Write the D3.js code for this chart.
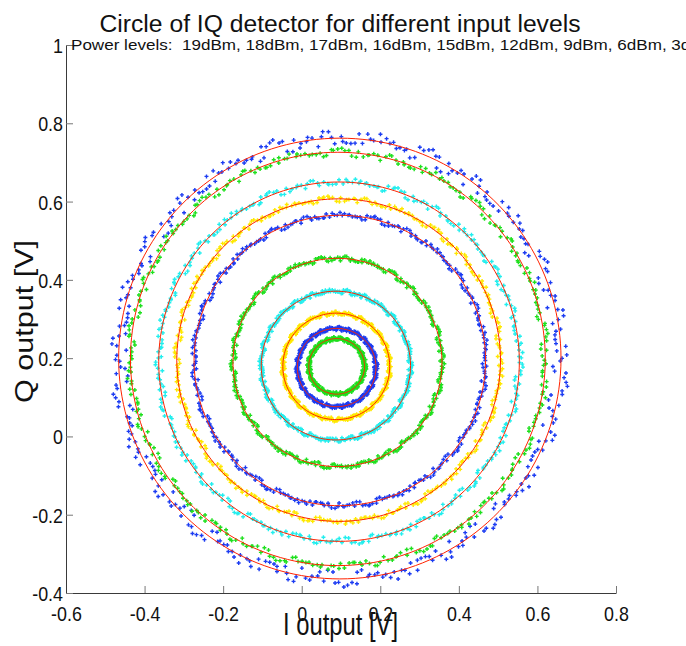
<!DOCTYPE html>
<html>
<head>
<meta charset="utf-8">
<script src="https://cdn.jsdelivr.net/npm/d3@7"></script>
<style>
  body { margin: 0; background: #fff; }
  svg { display: block; font-family: "Liberation Sans", Arial, Helvetica, sans-serif; }
</style>
</head>
<body>
<script>
// IQ detector output, one ring of samples per input power level (outer -> inner)
// every ring also gets its fitted circle in red

const powerLevels = [19, 18, 17, 16, 15, 12, 9, 6, 3, 0]
const ringColors = ['#1c3cf2', '#1ee01e', '#22eeee', '#ffe800',
                    '#1c3cf2', '#1ee01e', '#22eeee', '#ffe800',
                    '#1c3cf2', '#1ee01e']
// fitted circle centre (I, Q) and radius, in volts
const centerI = [0.097, 0.092, 0.095, 0.094, 0.097, 0.091, 0.087, 0.088, 0.089, 0.089]
const centerQ = [0.199, 0.198, 0.191, 0.195, 0.194, 0.189, 0.181, 0.179, 0.176, 0.179]
const radius  = [0.563, 0.528, 0.459, 0.412, 0.371, 0.266, 0.190, 0.136, 0.100, 0.071]
// how far the samples wander off the fitted circle
const spread  = [0.022, 0.011, 0.010, 0.008, 0.008, 0.007, 0.006, 0.005, 0.005, 0.005]
// radial scatter pattern of the samples (fraction of spread)
const scatter = [0.12, -0.55, 0.83, -0.21, 0.40, -0.92, 0.05, 0.67, -0.38, 0.26,
                 -0.71, 0.94, -0.08, 0.51, -0.47, 0.18, -0.86, 0.33, 0.74, -0.29,
                 -0.03, 0.59, -0.64, 0.21, -0.97, 0.45, -0.15, 0.88, -0.52, 0.09,
                 0.36, -0.79, 0.63, -0.33, 0.02, -0.58, 0.77, -0.11, 0.48, -0.69, 0.27]
const samplesPerRing = 360

const xTicks = [-0.6, -0.4, -0.2, 0, 0.2, 0.4, 0.6, 0.8]
const yTicks = [-0.4, -0.2, 0, 0.2, 0.4, 0.6, 0.8, 1]

const W = 686
const H = 646

const svg = d3.select('body')
  .append('svg')
  .attr('width', W)
  .attr('height', H)

const x = d3.scaleLinear().domain([-0.6, 0.8]).range([66, 616])
const y = d3.scaleLinear().domain([-0.4, 1]).range([593, 45])

// samples
let points = []
powerLevels.forEach(function (p, k) {
  const L = scatter.length
  for (let i = 0; i < samplesPerRing; i++) {
    const a = 2 * Math.PI * (i + 0.4 * scatter[(i * 3 + k * 5) % L]) / samplesPerRing
    const r = radius[k] + spread[k] * scatter[(i * 7 + k * 3) % L]
    points.push({ k: k, I: centerI[k] + r * Math.cos(a), Q: centerQ[k] + r * Math.sin(a) })
  }
})

svg.append('g')
  .selectAll('path')
  .data(points)
  .enter().append('path')
  .attr('d', 'M-2,0H2M0,-2V2')
  .attr('transform', function (d) { return 'translate(' + x(d.I) + ',' + y(d.Q) + ')' })
  .style('stroke', function (d) { return ringColors[d.k] })
  .style('stroke-width', 1.4)

// fitted circles
const angles = d3.range(0, 361, 2).map(function (d) { return d * Math.PI / 180 })
svg.append('g')
  .selectAll('path')
  .data(powerLevels)
  .enter().append('path')
  .attr('d', function (p, k) {
    return d3.line()
      .x(function (a) { return x(centerI[k] + radius[k] * Math.cos(a)) })
      .y(function (a) { return y(centerQ[k] + radius[k] * Math.sin(a)) })(angles)
  })
  .style('fill', 'none')
  .style('stroke', '#ff2200')
  .style('stroke-width', 1)

// axes, ticks pointing inwards, no box
const fmt = function (d) { return String(+d.toFixed(1)) }
const gx = svg.append('g')
  .attr('transform', 'translate(0,593)')
  .call(d3.axisBottom(x).tickValues(xTicks).tickSizeInner(-7).tickSizeOuter(0).tickFormat(fmt))
gx.selectAll('text').attr('y', 28).attr('dy', 0)

const gy = svg.append('g')
  .attr('transform', 'translate(66,0)')
  .call(d3.axisLeft(y).tickValues(yTicks).tickSizeInner(-7).tickSizeOuter(0).tickFormat(fmt))
gy.selectAll('text').attr('x', -3).attr('dy', '0.36em')

svg.selectAll('.domain').style('stroke', '#3a3a3a')
svg.selectAll('.tick line').style('stroke', '#777')
svg.selectAll('.tick text')
  .style('font-family', '"Liberation Sans", Arial, sans-serif')
  .style('font-size', '21px')
  .style('fill', '#111')
  .each(function () {
    const len = this.getComputedTextLength()
    d3.select(this).attr('textLength', len * 0.85).attr('lengthAdjust', 'spacingAndGlyphs')
  })

// texts
svg.append('text')
  .attr('x', 340)
  .attr('y', 31.5)
  .attr('text-anchor', 'middle')
  .attr('textLength', 481)
  .attr('lengthAdjust', 'spacingAndGlyphs')
  .style('font-size', '23.5px')
  .style('fill', '#111')
  .text('Circle of IQ detector for different input levels')

svg.append('text')
  .attr('x', 71)
  .attr('y', 50)
  .attr('textLength', 699)
  .attr('lengthAdjust', 'spacingAndGlyphs')
  .style('font-size', '15.5px')
  .style('fill', '#111')
  .style('white-space', 'pre')
  .text('Power levels:  ' + powerLevels.map(function (p) { return p + 'dBm' }).join(', '))

svg.append('text')
  .attr('x', 340.5)
  .attr('y', 635)
  .attr('text-anchor', 'middle')
  .attr('textLength', 115)
  .attr('lengthAdjust', 'spacingAndGlyphs')
  .style('font-size', '31px')
  .style('fill', '#111')
  .text('I output [V]')

svg.append('text')
  .attr('transform', 'translate(33,321.5) rotate(-90)')
  .attr('text-anchor', 'middle')
  .attr('textLength', 163)
  .attr('lengthAdjust', 'spacingAndGlyphs')
  .style('font-size', '25px')
  .style('fill', '#111')
  .text('Q output [V]')
</script>
</body>
</html>
